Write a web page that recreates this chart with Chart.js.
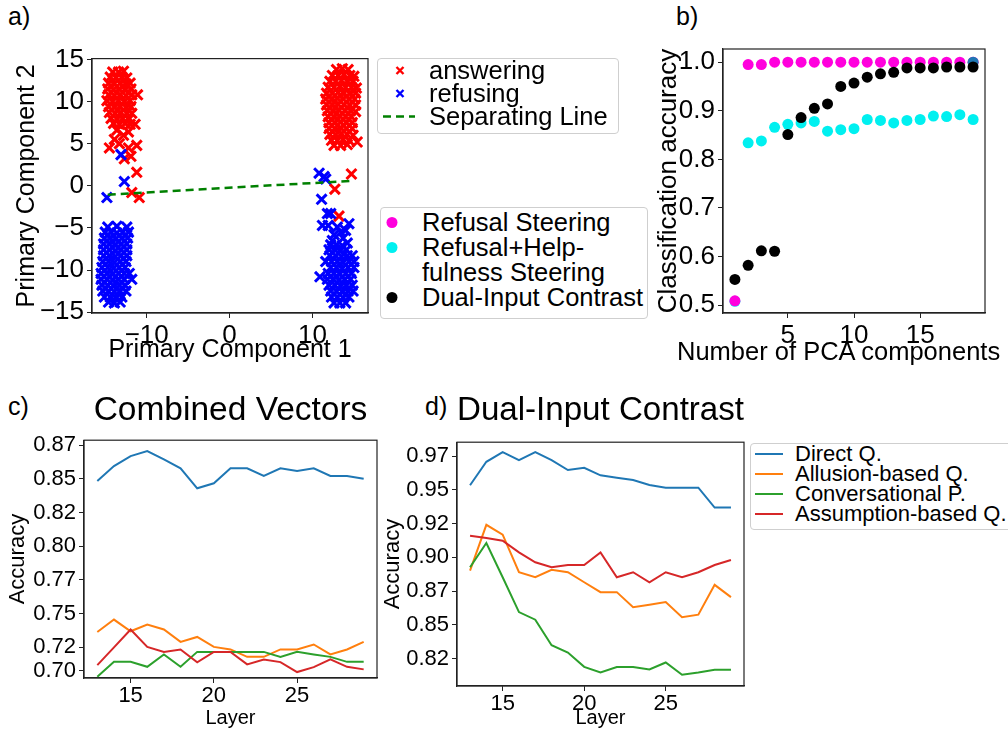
<!DOCTYPE html>
<html>
<head>
<meta charset="utf-8">
<script src="https://cdn.jsdelivr.net/npm/chart.js@4.4.1/dist/chart.umd.min.js"></script>
<style>
  body { margin:0; width:1008px; height:733px; position:relative; overflow:hidden; background:#fff;
         font-family:"Liberation Sans", Arial, sans-serif; color:#000; }
  canvas { position:absolute; }
  .tag { position:absolute; font-size:25px; }
  .xlab { position:absolute; font-size:25.5px; white-space:nowrap; line-height:30px; }
  .legend { position:absolute; border:1px solid #cfcfcf; border-radius:4px; background:#fff; box-sizing:border-box; }
  .row { display:flex; align-items:flex-start; white-space:pre-line; }
  .key { flex:none; display:block; }
  .key svg { display:block; }
</style>
</head>
<body>
<div class="tag" style="left:8px;top:2px">a)</div>
<div class="tag" style="left:676px;top:2px">b)</div>
<div class="tag" style="left:8px;top:392px">c)</div>
<div class="tag" style="left:425px;top:392px">d)</div>

<canvas id="pa" width="378" height="330" style="left:0;top:40px"></canvas>
<canvas id="pb" width="358" height="340" style="left:650px;top:30px"></canvas>
<canvas id="pc" width="380" height="348" style="left:0;top:385px"></canvas>
<canvas id="pd" width="370" height="348" style="left:380px;top:385px"></canvas>
<div class="xlab" id="bxlab" style="left:677px;top:336px"></div>

<div class="legend" id="lega" style="left:377px;top:58px;width:242px;height:76px;padding:0 0 0 5px;font-size:25.5px;line-height:23px"></div>
<div class="legend" id="legb" style="left:380px;top:207px;width:268px;height:112px;padding:2px 0 0 2px;font-size:25.5px;line-height:25px"></div>
<div class="legend" id="legd" style="left:750px;top:443px;width:262px;height:87px;padding:0 0 0 4px;font-size:22px;line-height:20px"></div>

<script>
// ---------- panel a: PCA projection (x = component 1, y = component 2) ----------
const answeringPts = [
  // left cluster
  [-14.1,13.5],[-13.4,13.5],[-12.8,13.6],
  [-14.4,12.9],[-13.7,12.8],[-13.0,12.9],[-12.4,12.8],
  [-14.6,12.2],[-13.9,12.1],[-13.2,12.2],[-12.5,12.1],[-12.0,12.2],
  [-14.7,11.5],[-14.0,11.4],[-13.3,11.5],[-12.6,11.4],[-11.9,11.5],
  [-14.6,10.8],[-13.9,10.7],[-13.2,10.8],[-12.5,10.7],[-11.8,10.8],
  [-14.8,10.1],[-14.1,10.0],[-13.4,10.1],[-12.7,10.0],[-12.0,10.1],
  [-14.6,9.4],[-13.9,9.3],[-13.2,9.4],[-12.5,9.3],[-11.9,9.4],
  [-14.5,8.7],[-13.8,8.6],[-13.1,8.7],[-12.4,8.6],
  [-14.3,8.0],[-13.6,7.9],[-12.9,8.0],[-12.2,7.9],
  [-14.0,7.4],[-13.3,7.3],[-12.6,7.4],[-12.0,7.3],
  [-11.1,10.8],[-11.8,8.6],[-11.4,7.3],[-13.6,6.6],[-12.8,6.0],[-12.2,6.4],
  [-13.9,5.5],[-13.3,5.0],[-14.5,4.5],[-12.2,4.5],[-11.2,4.8],[-11.9,3.5],
  [-12.7,3.2],[-11.2,1.6],[-11.8,-0.8],[-10.9,-1.4],
  // right cluster
  [12.9,13.8],[13.6,13.9],[14.3,13.8],
  [12.4,13.1],[13.1,13.1],[13.8,13.2],[14.5,13.1],[15.0,13.0],
  [12.1,12.4],[12.8,12.4],[13.5,12.5],[14.2,12.4],[14.9,12.4],
  [11.9,11.7],[12.6,11.7],[13.3,11.8],[14.0,11.7],[14.7,11.7],[15.3,11.6],
  [11.7,11.0],[12.4,11.0],[13.1,11.1],[13.8,11.0],[14.5,11.0],[15.2,11.0],
  [11.6,10.3],[12.3,10.3],[13.0,10.4],[13.7,10.3],[14.4,10.3],[15.1,10.3],
  [11.7,9.6],[12.4,9.6],[13.1,9.7],[13.8,9.6],[14.5,9.6],[15.2,9.6],
  [11.8,8.9],[12.5,8.9],[13.2,9.0],[13.9,8.9],[14.6,8.9],[15.2,8.8],
  [11.9,8.2],[12.6,8.2],[13.3,8.3],[14.0,8.2],[14.7,8.2],
  [12.0,7.5],[12.7,7.5],[13.4,7.6],[14.1,7.5],[14.8,7.5],
  [12.0,6.8],[12.7,6.8],[13.4,6.9],[14.1,6.8],[14.8,6.8],
  [12.1,6.1],[12.8,6.1],[13.5,6.2],[14.2,6.1],[14.9,6.0],
  [12.3,5.4],[13.0,5.4],[13.7,5.5],[14.4,5.4],
  [12.6,4.8],[13.4,4.8],[14.2,4.9],[15.4,5.2],
  [14.7,1.4],[12.7,-0.4],[13.2,-3.6]
];
const refusingPts = [
  // left cluster
  [-13.1,3.7],[-12.7,0.5],[-14.8,-1.4],
  [-14.7,-4.9],[-13.6,-4.8],[-12.4,-4.9],
  [-15.0,-5.5],[-14.3,-5.5],[-13.6,-5.6],[-12.9,-5.5],[-12.2,-5.5],
  [-15.1,-6.2],[-14.4,-6.2],[-13.7,-6.3],[-13.0,-6.2],[-12.3,-6.2],
  [-15.2,-6.9],[-14.5,-6.9],[-13.8,-7.0],[-13.1,-6.9],[-12.4,-6.9],
  [-15.2,-7.6],[-14.5,-7.6],[-13.8,-7.7],[-13.1,-7.6],[-12.4,-7.6],
  [-15.2,-8.3],[-14.5,-8.3],[-13.8,-8.4],[-13.1,-8.3],[-12.4,-8.3],
  [-15.3,-9.0],[-14.6,-9.0],[-13.9,-9.1],[-13.2,-9.0],[-12.5,-9.0],
  [-15.4,-9.7],[-14.7,-9.7],[-14.0,-9.8],[-13.3,-9.7],[-12.6,-9.7],
  [-15.5,-10.4],[-14.8,-10.4],[-14.1,-10.5],[-13.4,-10.4],[-12.7,-10.4],[-12.1,-10.4],
  [-15.5,-11.1],[-14.8,-11.1],[-14.1,-11.2],[-13.4,-11.1],[-12.7,-11.1],[-11.8,-11.1],
  [-15.4,-11.8],[-14.7,-11.8],[-14.0,-11.9],[-13.3,-11.8],[-12.6,-11.8],
  [-15.3,-12.5],[-14.6,-12.5],[-13.9,-12.6],[-13.2,-12.5],[-12.5,-12.5],
  [-15.1,-13.2],[-14.4,-13.2],[-13.7,-13.3],[-13.0,-13.2],
  [-14.6,-13.8],[-13.9,-13.9],[-13.2,-13.8],
  // right cluster
  [10.8,1.5],[11.4,1.1],[11.6,0.8],[11.1,-1.6],[11.8,-3.3],[12.2,-3.3],
  [11.2,-4.7],[11.9,-4.7],[14.4,-4.5],[14.0,-5.3],[13.4,-5.5],[13.0,-4.9],
  [13.7,-6.2],[12.6,-5.8],[12.4,-6.5],[14.2,-6.8],[11.6,-9.0],[10.9,-10.8],
  [12.2,-7.0],[12.9,-7.0],[13.6,-7.1],
  [12.0,-7.6],[12.7,-7.6],[13.4,-7.7],[14.1,-7.6],
  [12.1,-8.3],[12.8,-8.3],[13.5,-8.4],[14.2,-8.3],[14.8,-8.3],
  [12.3,-9.0],[13.0,-9.0],[13.7,-9.1],[14.4,-9.0],[15.0,-9.0],
  [12.2,-9.7],[12.9,-9.7],[13.6,-9.8],[14.3,-9.7],[15.0,-9.7],
  [11.9,-10.4],[12.6,-10.4],[13.3,-10.5],[14.0,-10.4],[14.7,-10.4],
  [11.8,-11.1],[12.5,-11.1],[13.2,-11.2],[13.9,-11.1],[14.6,-11.1],
  [12.0,-11.8],[12.7,-11.8],[13.4,-11.9],[14.1,-11.8],[14.8,-11.8],
  [12.2,-12.5],[12.9,-12.5],[13.6,-12.6],[14.3,-12.5],[14.9,-12.5],
  [12.3,-13.2],[13.0,-13.2],[13.7,-13.3],[14.4,-13.2],
  [12.6,-13.9],[13.3,-13.9],[14.0,-13.9]
];
const sepLineX = [-14.7, 14.9];
const sepLineY = [-1.05, 0.6];
const aTicksX = [-10, 0, 10];
const aTicksY = [-15, -10, -5, 0, 5, 10, 15];

// ---------- panel b: accuracy vs number of PCA components ----------
const pcaComponents   = [1,2,3,4,5,6,7,8,9,10,11,12,13,14,15,16,17,18,19];
const refusalSteering = [0.509,0.995,0.995,1.0,1.0,1.0,1.0,1.0,1.0,1.0,1.0,1.0,1.0,1.0,1.0,1.0,1.0,1.0,1.0];
const helpSteering    = [0.508,0.834,0.838,0.866,0.872,0.875,0.878,0.858,0.861,0.863,0.882,0.880,0.875,0.880,0.882,0.889,0.888,0.892,0.882];
const dualInput       = [0.553,0.582,0.612,0.611,0.851,0.886,0.905,0.914,0.950,0.957,0.969,0.976,0.979,0.988,0.988,0.988,0.990,0.990,0.990];
const bTicksX = [5, 10, 15];
const bTicksY = [0.5, 0.6, 0.7, 0.8, 0.9, 1.0];

// ---------- panels c, d: accuracy per layer ----------
const layers = [13,14,15,16,17,18,19,20,21,22,23,24,25,26,27,28,29];
const cDirect    = [0.8484,0.8595,0.8669,0.8706,0.8644,0.8578,0.8430,0.8467,0.8578,0.8578,0.8521,0.8578,0.8558,0.8578,0.8521,0.8521,0.8501];
const cAllusion  = [0.7363,0.7455,0.7368,0.7418,0.7381,0.7289,0.7326,0.7252,0.7233,0.7178,0.7178,0.7233,0.7233,0.7270,0.7196,0.7233,0.7289];
const cConv      = [0.7030,0.7141,0.7141,0.7104,0.7196,0.7104,0.7215,0.7215,0.7215,0.7215,0.7215,0.7178,0.7215,0.7196,0.7178,0.7141,0.7141];
const cAssump    = [0.7117,0.7248,0.7381,0.7252,0.7215,0.7233,0.7137,0.7215,0.7215,0.7122,0.7159,0.7139,0.7065,0.7102,0.7159,0.7104,0.7085];
const dDirect    = [0.9534,0.9708,0.9779,0.9721,0.9779,0.9721,0.9647,0.9664,0.9608,0.9590,0.9573,0.9536,0.9516,0.9516,0.9516,0.9369,0.9369];
const dAllusion  = [0.8902,0.9241,0.9168,0.8890,0.8853,0.8908,0.8890,0.8816,0.8743,0.8743,0.8632,0.8650,0.8669,0.8558,0.8576,0.8797,0.8706];
const dConv      = [0.8927,0.9107,0.8853,0.8595,0.8539,0.8350,0.8296,0.8190,0.8148,0.8188,0.8188,0.8170,0.8222,0.8131,0.8148,0.8168,0.8168];
const dAssump    = [0.9160,0.9143,0.9124,0.9037,0.8964,0.8927,0.8944,0.8944,0.9037,0.8853,0.8890,0.8816,0.8890,0.8853,0.8890,0.8944,0.8981];
const layerTicks = [15, 20, 25];
const cTicksY  = [0.7075,0.725,0.75,0.775,0.8,0.825,0.85,0.875];
const cLabelsY = ['0.70','0.72','0.75','0.77','0.80','0.82','0.85','0.87'];
const dTicksY  = [0.825,0.85,0.875,0.9,0.925,0.95,0.975];
const dLabelsY = ['0.82','0.85','0.87','0.90','0.92','0.95','0.97'];

const seriesNames = ['Direct Q.', 'Allusion-based Q.', 'Conversational P.', 'Assumption-based Q.'];
const tab10 = ['#1f77b4', '#ff7f0e', '#2ca02c', '#d62728'];

const FONT = '"Liberation Sans", Arial, sans-serif';
const INK = '#222';

const frame = {
  id: 'frame',
  afterDatasetsDraw(chart) {
    const a = chart.chartArea, ctx = chart.ctx;
    ctx.save();
    ctx.strokeStyle = INK;
    ctx.lineWidth = 1.2;
    ctx.strokeRect(a.left, a.top, a.right - a.left, a.bottom - a.top);
    ctx.restore();
  }
};

function axis(o) {
  return {
    type: 'linear',
    min: o.min, max: o.max,
    afterBuildTicks: s => { s.ticks = o.ticks.map(v => ({ value: v })); },
    afterFit: s => { if (o.width) s.width = o.width; if (o.height) s.height = o.height; },
    grid: { drawOnChartArea: false, drawTicks: true, tickLength: 5, color: INK },
    border: { display: true, color: INK, width: 1.2 },
    ticks: {
      color: '#000', padding: o.tickPad, autoSkip: false, maxRotation: 0,
      font: { family: FONT, size: o.tickSize },
      callback: (v, i) => o.labels ? o.labels[i] : o.fmt(v)
    },
    title: { display: !!o.title, text: o.title, color: '#000', padding: o.titlePad,
             font: { family: FONT, size: o.titleSize } }
  };
}

const minus = v => (v < 0 ? '\u2212' + Math.abs(v) : String(v));
const xy = (xs, ys) => xs.map((x, i) => ({ x: x, y: ys[i] }));

function base(pad, title) {
  return {
    responsive: false, animation: false, devicePixelRatio: 1,
    layout: { padding: pad },
    plugins: { legend: { display: false }, tooltip: { enabled: false }, title: title || { display: false } }
  };
}

// panel a
const chartA = new Chart(document.getElementById('pa'), {
  type: 'scatter',
  data: {
    datasets: [
      { label: 'answering', legendKind: 'cross', data: answeringPts.map(p => ({ x: p[0], y: p[1] })),
        pointStyle: 'crossRot', radius: 7, borderWidth: 3, borderColor: '#ff0000', backgroundColor: '#ff0000', order: 2 },
      { label: 'refusing', legendKind: 'cross', data: refusingPts.map(p => ({ x: p[0], y: p[1] })),
        pointStyle: 'crossRot', radius: 7, borderWidth: 3, borderColor: '#0000ff', backgroundColor: '#0000ff', order: 1 },
      { label: 'Separating Line', legendKind: 'dash', type: 'line', data: xy(sepLineX, sepLineY),
        borderColor: '#008000', borderWidth: 2.5, borderDash: [8, 5], pointRadius: 0, order: 0 }
    ]
  },
  options: Object.assign(base({ top: 16, right: 3, left: 0, bottom: 0 }), {
    scales: {
      x: axis({ min: -16.6, max: 16.7, ticks: aTicksX, fmt: minus, tickSize: 26, tickPad: 2, height: 57,
                title: 'Primary Component 1', titleSize: 25, titlePad: { top: 0, bottom: 5 } }),
      y: axis({ min: -15.1, max: 15.1, ticks: aTicksY, fmt: minus, tickSize: 26, tickPad: 3, width: 92,
                title: 'Primary Component 2', titleSize: 25, titlePad: { top: 12, bottom: 0 } })
    }
  }),
  plugins: [frame]
});

// panel b
const chartB = new Chart(document.getElementById('pb'), {
  type: 'scatter',
  data: {
    datasets: [
      { label: 'Refusal Steering', legendKind: 'dot', data: xy(pcaComponents, refusalSteering),
        radius: 5.5, borderWidth: 0, backgroundColor: '#ff00dd', order: 2 },
      { label: 'Refusal+Help-\nfulness Steering', legendKind: 'dot', data: xy(pcaComponents, helpSteering),
        radius: 5.5, borderWidth: 0, backgroundColor: '#00f0f0', order: 3 },
      { label: 'Dual-Input Contrast', legendKind: 'dot', data: xy(pcaComponents, dualInput),
        radius: 5.5, borderWidth: 0, backgroundColor: '#000000', order: 0 },
      { label: '', data: [{ x: pcaComponents[18], y: refusalSteering[18] }],
        radius: 5.5, borderWidth: 0, backgroundColor: tab10[0], order: 1 }
    ]
  },
  options: Object.assign(base({ top: 19, right: 23, left: 0, bottom: 0 }), {
    scales: {
      x: axis({ min: 0.1, max: 19.9, ticks: bTicksX, fmt: String, tickSize: 26, tickPad: 2, height: 57 }),
      y: axis({ min: 0.484, max: 1.027, ticks: bTicksY, fmt: v => v.toFixed(1), tickSize: 26, tickPad: 3, width: 73,
                title: 'Classification accuracy', titleSize: 26, titlePad: { top: 3, bottom: 0 } })
    }
  }),
  plugins: [frame]
});
// the x label of b is wider than its axes, so it sits outside the canvas as text
document.getElementById('bxlab').textContent = 'Number of PCA components';

function layerChart(id, title, values, yMin, yMax, ticks, labels, yW, xH, pad, titlePad, yTitlePad) {
  return new Chart(document.getElementById(id), {
    type: 'line',
    data: {
      datasets: values.map((vals, i) => ({
        label: seriesNames[i], legendKind: 'line', data: xy(layers, vals),
        borderColor: tab10[i], borderWidth: 2, pointRadius: 0, tension: 0, fill: false, order: 3 - i
      }))
    },
    options: Object.assign(base(pad, {
      display: true, text: title, color: '#000', fullSize: false, padding: titlePad,
      font: { family: FONT, size: 33.5, weight: 'normal' }
    }), {
      scales: {
        x: axis({ min: 12.2, max: 29.8, ticks: layerTicks, fmt: String, tickSize: 22, tickPad: 0, height: xH,
                  title: 'Layer', titleSize: 20, titlePad: { top: 0, bottom: 3 } }),
        y: axis({ min: yMin, max: yMax, ticks: ticks, labels: labels, tickSize: 22, tickPad: 3, width: yW,
                  title: 'Accuracy', titleSize: 22, titlePad: { top: yTitlePad, bottom: 0 } })
      }
    }),
    plugins: [frame]
  });
}

const chartC = layerChart('pc', 'Combined Vectors', [cDirect, cAllusion, cConv, cAssump],
  0.7021, 0.8787, cTicksY, cLabelsY, 84, 55, { top: 0, right: 3, left: 0, bottom: 0 }, { top: 6, bottom: 9 }, 5);
const chartD = layerChart('pd', 'Dual-Input Contrast', [dDirect, dAllusion, dConv, dAssump],
  0.8048, 0.9853, dTicksY, dLabelsY, 77, 47, { top: 0, right: 6, left: 0, bottom: 0 }, { top: 6, bottom: 11 }, 0);

// HTML legends built from the chart datasets
function keySvg(ds, w, h, mx) {
  const c = ds.legendKind === 'dot' ? ds.backgroundColor : ds.borderColor;
  const m = h / 2;
  let body = '';
  if (ds.legendKind === 'cross')
    body = `<path d="M${mx-3.5},${m-3.5}L${mx+3.5},${m+3.5}M${mx-3.5},${m+3.5}L${mx+3.5},${m-3.5}" stroke="${c}" stroke-width="2.4"/>`;
  else if (ds.legendKind === 'dash')
    body = `<line x1="0" y1="${m}" x2="${w - 8}" y2="${m}" stroke="${c}" stroke-width="2.5" stroke-dasharray="8,5"/>`;
  else if (ds.legendKind === 'dot')
    body = `<circle cx="${mx}" cy="${m}" r="5.5" fill="${c}"/>`;
  else
    body = `<line x1="0" y1="${m}" x2="${w - 6}" y2="${m}" stroke="${c}" stroke-width="2"/>`;
  return `<svg width="${w}" height="${h}">${body}</svg>`;
}

function buildLegend(id, chart, w, h, mx) {
  const box = document.getElementById(id);
  chart.data.datasets.forEach(ds => {
    if (!ds.legendKind) return;
    const row = document.createElement('div');
    row.className = 'row';
    const key = document.createElement('span');
    key.className = 'key';
    key.style.marginRight = '6px';
    key.innerHTML = keySvg(ds, w, h, mx);
    const txt = document.createElement('span');
    txt.textContent = ds.label;
    row.append(key, txt);
    box.append(row);
  });
}

buildLegend('lega', chartA, 40, 23, 17);
buildLegend('legb', chartB, 33, 25, 9);
buildLegend('legd', chartD, 34, 20, 0);
</script>
</body>
</html>
